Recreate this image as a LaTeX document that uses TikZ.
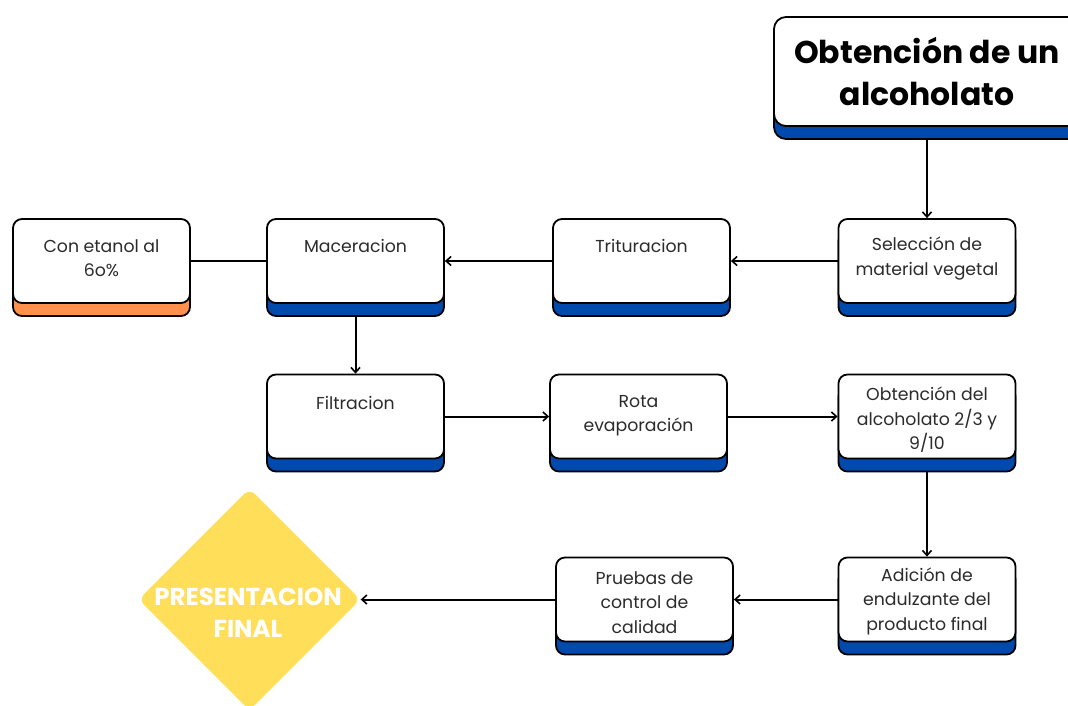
\documentclass[tikz,border=0pt]{standalone}
\usepackage{fontspec}
\setmainfont{Poppins}
\usetikzlibrary{arrows.meta,shapes.geometric}
\definecolor{cblue}{HTML}{004AAD}
\definecolor{corange}{HTML}{FF914D}
\definecolor{cyellow}{HTML}{FFDE59}
\definecolor{ctext}{HTML}{2B2B2B}
\begin{document}
\begin{tikzpicture}[x=1pt,y=-1pt,
 cardbox/.style={draw=black, line width=1.8pt, rounded corners=9pt, fill=white, minimum width=177pt, minimum height=84pt, inner sep=0pt},
 shadowbox/.style={cardbox, fill=#1},
 lbl/.style={font=\fontsize{17.3}{24.5}\selectfont, align=center, text=ctext, inner sep=0pt},
 arr/.style={line width=2pt, -{Straight Barb[length=5pt,width=9pt,line width=1.6pt]}},
 plainline/.style={line width=2pt}]
\useasboundingbox (0,0) rectangle (1068,705);

% title
\node[shadowbox=cblue, minimum width=306pt, minimum height=109pt, rounded corners=12pt] (ttl-s) at (927,84.5) {};
\node[cardbox, minimum width=306pt, minimum height=109pt, rounded corners=12pt] (ttl) at (927,71.5) {};
\node[font=\fontsize{31.5}{42}\selectfont\bfseries, align=center, text=black, inner sep=0pt] (ttl-t) at (927,71) {Obtención de un\\alcoholato};

% row 1
\node[shadowbox=corange] (eta-s) at (101.5,274) {};
\node[cardbox] (eta) at (101.5,261) {};
\node[lbl] (eta-t) at (101.5,258) {Con etanol al\\6o\%};

\node[shadowbox=cblue] (mac-s) at (355.5,274) {};
\node[cardbox] (mac) at (355.5,261) {};
\node[lbl] (mac-t) at (355.5,246) {Maceracion};

\node[shadowbox=cblue] (tri-s) at (641.5,274) {};
\node[cardbox] (tri) at (641.5,261) {};
\node[lbl] (tri-t) at (641.5,246) {Trituracion};

\node[shadowbox=cblue] (sel-s) at (927,274) {};
\node[cardbox] (sel) at (927,261) {};
\node[lbl] (sel-t) at (927,258.5) {Selección de\\material vegetal};

% row 2
\node[shadowbox=cblue] (fil-s) at (355.5,429.5) {};
\node[cardbox] (fil) at (355.5,416.5) {};
\node[lbl] (fil-t) at (355.5,403) {Filtracion};

\node[shadowbox=cblue] (rot-s) at (638.5,429.5) {};
\node[cardbox] (rot) at (638.5,416.5) {};
\node[lbl] (rot-t) at (638.5,415.5) {Rota\\evaporación};

\node[shadowbox=cblue] (obt-s) at (927,429.5) {};
\node[cardbox] (obt) at (927,416.5) {};
\node[lbl] (obt-t) at (927,420) {Obtención del\\alcoholato 2/3 y\\9/10};

% row 3
\node[shadowbox=cblue] (adi-s) at (927,612.5) {};
\node[cardbox] (adi) at (927,599.5) {};
\node[lbl] (adi-t) at (927,601) {Adición de\\endulzante del\\producto final};

\node[shadowbox=cblue] (pru-s) at (644.5,612.5) {};
\node[cardbox] (pru) at (644.5,599.5) {};
\node[lbl] (pru-t) at (644.5,602.5) {Pruebas de\\control de\\calidad};

\node[diamond, fill=cyellow, minimum width=222pt, minimum height=222pt, inner sep=0pt, rounded corners=8pt] (dia) at (249.5,599.5) {};
\node[font=\fontsize{24.5}{32}\selectfont\bfseries, align=center, text=white, inner sep=0pt] (dia-t) at (248,613) {PRESENTACION\\FINAL};

% connectors
\draw[arr] (ttl-s.south) -- (sel.north);
\draw[arr] (sel.west) -- (tri.east);
\draw[arr] (tri.west) -- (mac.east);
\draw[plainline] (eta.east) -- (mac.west);
\draw[arr] (mac-s.south) -- (fil.north);
\draw[arr] (fil.east) -- (rot.west);
\draw[arr] (rot.east) -- (obt.west);
\draw[arr] (obt-s.south) -- (adi.north);
\draw[arr] (adi.west) -- (pru.east);
\draw[arr] (pru.west) -- (dia.east);
\end{tikzpicture}
\end{document}
